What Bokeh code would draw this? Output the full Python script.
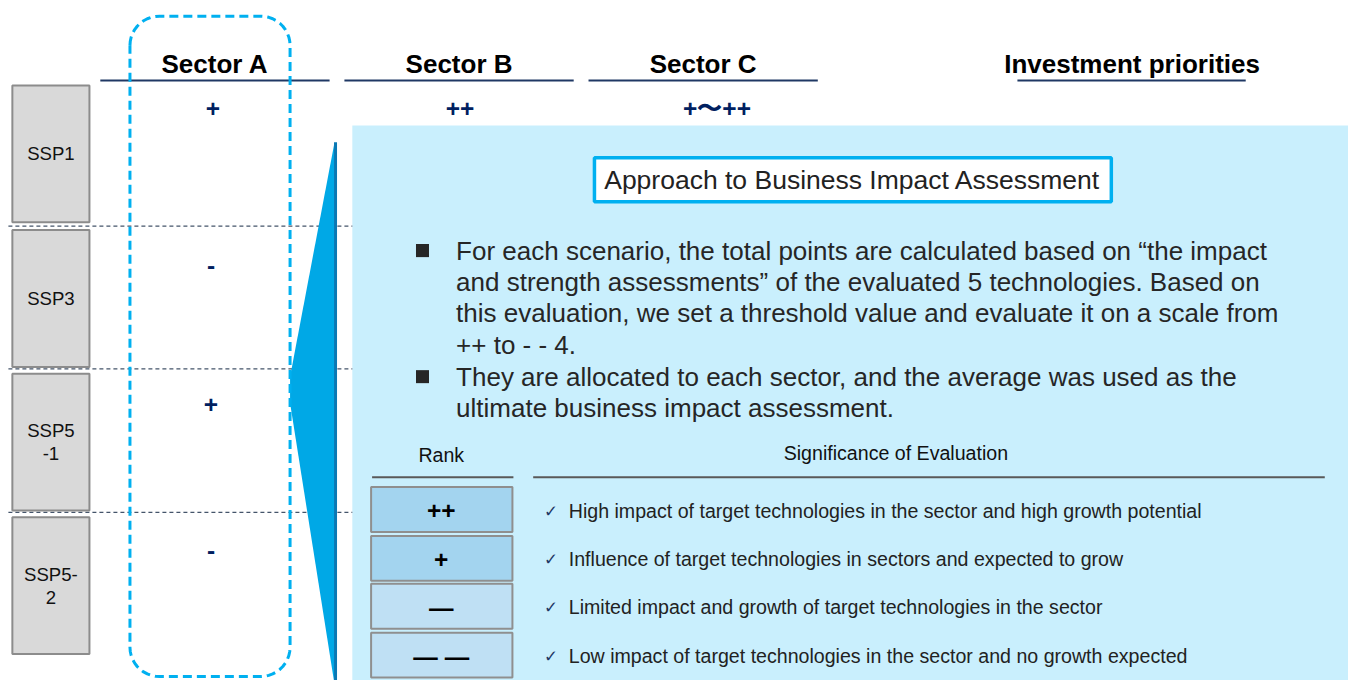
import numpy as np
from bokeh.plotting import figure
from bokeh.models import Range1d
from bokeh.core.properties import value
from bokeh.embed import file_html
from bokeh.resources import INLINE

# ---------------- data ----------------
scenarios = ["SSP1", "SSP3", "SSP5\n-1", "SSP5-\n2"]
sectors = ["Sector A", "Sector B", "Sector C"]
sector_a_scores = ["+", "-", "+", "-"]
ssp1_scores = ["+", "++", "+〜++"]
priority_title = "Investment priorities"
box_title = "Approach to Business Impact Assessment"
bullets = [
    ["For each scenario, the total points are calculated based on \u201cthe impact",
     "and strength assessments\u201d of the evaluated 5 technologies. Based on",
     "this evaluation, we set a threshold value and evaluate it on a scale from",
     "++ to - - 4."],
    ["They are allocated to each sector, and the average was used as the",
     "ultimate business impact assessment."],
]
ranks = ["++", "+", "\u2014", "\u2014 \u2014"]
rank_meanings = [
    "High impact of target technologies in the sector and high growth potential",
    "Influence of target technologies in sectors and expected to grow",
    "Limited impact and growth of target technologies in the sector",
    "Low impact of target technologies in the sector and no growth expected",
]

# ---------------- layout / styles ----------------
FONT = value("Liberation Sans")
NAVY = "#002060"
BLUE = "#00b0f0"
LINE_NAVY = "#1f3864"
K = 0.98  # font scale (1364x696 design space drawn into 1348x680)

def fs(px):
    return f"{px * K:.1f}px"

p = figure(width=1348, height=680, output_backend="svg", toolbar_location=None,
           x_range=Range1d(0, 1364), y_range=Range1d(696, 0))
p.axis.visible = False
p.grid.visible = False
p.outline_line_color = None
p.min_border = 0
p.background_fill_color = "white"
p.border_fill_color = "white"

# light blue panel
p.quad(left=356, right=1370, top=128, bottom=700, fill_color="#c9effd", line_color=None)

# scenario row geometry
row_top = [87, 235, 382, 529]
row_h = 140
seps = [231, 377, 524]

# dashed separators
for y in seps:
    p.segment(x0=8, y0=y, x1=356, y1=y, line_color="#44546a", line_width=1.2, line_dash="4 3")

# blue funnel/triangle
p.patch(x=[338, 293, 293, 338], y=[145, 385, 412, 700], fill_color="#00a8e6", line_color=None)
p.segment(x0=339, y0=145, x1=339, y1=700, line_color="#0a78b4", line_width=3)

# scenario boxes
for i, s in enumerate(scenarios):
    t = row_top[i]
    p.quad(left=12, right=90, top=t, bottom=t + row_h, fill_color="#d9d9d9",
           line_color="#8c8c8c", line_width=2)
    lines = s.split("\n")
    cy = t + row_h / 2
    n = len(lines)
    for j, ln in enumerate(lines):
        yy = cy + (j - (n - 1) / 2) * 24
        p.text(x=[51], y=[yy], text=[ln], text_font=FONT, text_font_size=fs(19),
               text_align="center", text_baseline="middle", text_color="#111111")

# sector headers
sec_x = [217, 464, 711]
sec_line = [(101, 333), (348, 580), (595, 827)]
for i, s in enumerate(sectors):
    p.text(x=[sec_x[i]], y=[65], text=[s], text_font=FONT, text_font_size=fs(26.5),
           text_font_style="bold", text_align="center", text_baseline="middle", text_color="black")
    p.segment(x0=sec_line[i][0], y0=82, x1=sec_line[i][1], y1=82, line_color=LINE_NAVY, line_width=2)
p.text(x=[1145], y=[65], text=[priority_title], text_font=FONT, text_font_size=fs(26.5),
       text_font_style="bold", text_align="center", text_baseline="middle", text_color="black")
p.segment(x0=1029, y0=82, x1=1260, y1=82, line_color=LINE_NAVY, line_width=2)

# SSP1 scores for each sector
score_x = [215, 465, 725]
for i, v in enumerate(ssp1_scores):
    p.text(x=[score_x[i]], y=[111], text=[v],
           text_font=FONT, text_font_size=fs(25), text_font_style="bold",
           text_align="center", text_baseline="middle", text_color=NAVY)
# sector A scores for other rows
score_y = [111, 271, 413, 563]
for i, v in enumerate(sector_a_scores[1:], start=1):
    p.text(x=[213], y=[score_y[i]], text=[v], text_font=FONT, text_font_size=fs(25),
           text_font_style="bold", text_align="center", text_baseline="middle", text_color=NAVY)

# dashed rounded rectangle around Sector A
x0, x1, y0, y1, r = 131, 293, 16, 692, 30
def arc(cx, cy, a0, a1):
    a = np.linspace(a0, a1, 12)
    return list(cx + r * np.cos(a)), list(cy + r * np.sin(a))
xs, ys = [], []
for (cx, cy, a0, a1) in [(x0 + r, y0 + r, np.pi, 1.5 * np.pi),
                         (x1 - r, y0 + r, 1.5 * np.pi, 2 * np.pi),
                         (x1 - r, y1 - r, 0, 0.5 * np.pi),
                         (x0 + r, y1 - r, 0.5 * np.pi, np.pi)]:
    ax, ay = arc(cx, cy, a0, a1)
    xs += ax
    ys += ay
xs.append(xs[0]); ys.append(ys[0])
p.line(x=xs, y=ys, line_color=BLUE, line_width=3, line_dash="9 5")

# title box
p.quad(left=601, right=1124, top=161, bottom=206, fill_color="white", line_color=BLUE, line_width=3.5)
p.text(x=[862], y=[184], text=[box_title], text_font=FONT, text_font_size=fs(27),
       text_align="center", text_baseline="middle", text_color="#222222")

# bullets
line_y = [[256, 288, 320, 353], [385, 417]]
for b, lines in enumerate(bullets):
    p.scatter(x=[427], y=[line_y[b][0]], marker="square", size=13, fill_color="#262626", line_color=None)
    for j, ln in enumerate(lines):
        p.text(x=[461], y=[line_y[b][j]], text=[ln], text_font=FONT, text_font_size=fs(26.5),
               text_align="left", text_baseline="middle", text_color="#262626")

# rank table header
p.text(x=[446], y=[465], text=["Rank"], text_font=FONT, text_font_size=fs(20),
       text_align="center", text_baseline="middle", text_color="#111111")
p.text(x=[906], y=[463], text=["Significance of Evaluation"], text_font=FONT, text_font_size=fs(20),
       text_align="center", text_baseline="middle", text_color="#111111")
p.segment(x0=376, y0=488, x1=519, y1=488, line_color="#595959", line_width=2)
p.segment(x0=539, y0=488, x1=1340, y1=488, line_color="#595959", line_width=2)

rank_top = [498, 548, 597, 647]
rank_fill = ["#a3d4ef", "#a3d4ef", "#bfe0f4", "#bfe0f4"]
for i, rk in enumerate(ranks):
    t = rank_top[i]
    p.quad(left=375, right=518, top=t, bottom=t + 46, fill_color=rank_fill[i],
           line_color="#8f8f8f", line_width=2)
    p.text(x=[446], y=[t + 24], text=[rk], text_font=FONT, text_font_size=fs(25),
           text_font_style="bold", text_align="center", text_baseline="middle", text_color="black")
    p.text(x=[550], y=[t + 24], text=["\u2713"], text_font=value("DejaVu Sans"), text_font_size=fs(17),
           text_align="left", text_baseline="middle", text_color=LINE_NAVY)
    p.text(x=[575], y=[t + 24], text=[rank_meanings[i]], text_font=FONT, text_font_size=fs(20),
           text_align="left", text_baseline="middle", text_color="#222222")

open("out.html", "w").write(file_html(p, INLINE))
